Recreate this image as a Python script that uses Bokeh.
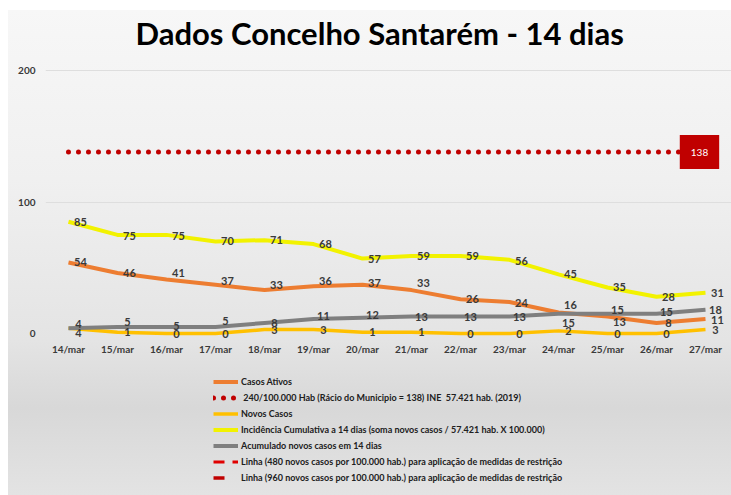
from bokeh.plotting import figure
from bokeh.models import (ColumnDataSource, LabelSet, Label, Legend, LegendItem,
                          FixedTicker, Range1d)
from bokeh.core.properties import value
from bokeh.embed import file_html
from bokeh.resources import INLINE

# ---------------- data ----------------
dates = ["14/mar", "15/mar", "16/mar", "17/mar", "18/mar", "19/mar", "20/mar",
         "21/mar", "22/mar", "23/mar", "24/mar", "25/mar", "26/mar", "27/mar"]
casos_ativos = [54, 46, 41, 37, 33, 36, 37, 33, 26, 24, 16, 13, 8, 11]
novos_casos = [4, 1, 0, 0, 3, 3, 1, 1, 0, 0, 2, 0, 0, 3]
incidencia = [85, 75, 75, 70, 71, 68, 57, 59, 59, 56, 45, 35, 28, 31]
acumulado = [4, 5, 5, 5, 8, 11, 12, 13, 13, 13, 15, 15, 15, 18]
limiar_240 = 138   # 240/100.000 hab. for 57.421 hab.
limiar_480 = 276   # 480/100.000 hab. (above the visible range)
limiar_960 = 551   # 960/100.000 hab. (above the visible range)
y_ticks = [0, 100, 200]

title_text = "Dados Concelho Santarém - 14 dias"
legend_labels = [
    "Casos Ativos",
    " 240/100.000 Hab (Rácio do Municipio = 138) INE  57.421 hab. (2019)",
    "Novos Casos",
    "Incidência Cumulativa a 14 dias (soma novos casos / 57.421 hab. X 100.000)",
    "Acumulado novos casos em 14 dias",
    "Linha (480 novos casos por 100.000 hab.) para aplicação de medidas de restrição",
    "Linha (960 novos casos por 100.000 hab.) para aplicação de medidas de restrição",
]

# label placement (vertical pixel nudges of the data labels, style only)
dy_ativos = [0, 0, 7, 4, 5, 5, 2, 7, 0, -1, 7, -6, 0, -1]
dy_acum = [4, 5, 1, 6, 0, 3, 3, -1, -1, -1, -9, 4, 2, 0]
dy_novos = [-5, 0, 0, 0, 0, 0, 0, 0, 0, 0, 0, 0, 0, 0]
dy_inc = [0, -1, -1, 0, 0, 0, 0, 0, 0, -1, 0, 0, 0, 0]

# ---------------- figure ----------------
x = list(range(len(dates)))
FONT = "Lato"
LBL = "#3a3a3a"

# frame: left 45, right 731, top 62, bottom 495 (screen px)
p = figure(width=731, height=495, output_backend="svg", toolbar_location=None,
           x_range=Range1d(-0.469, 13.531), y_range=Range1d(-123.2, 206.1),
           min_border_left=45, min_border_right=0, min_border_top=62,
           min_border_bottom=0)
p.background_fill_alpha = 0
p.border_fill_alpha = 0
p.outline_line_color = None
p.styles = {"background": "linear-gradient(to bottom, #f7f7f7 0%, #f0f0f0 35%, #e4e4e4 68%, #d8d8d8 82%, #e3e3e3 100%) 8px 10px / calc(100% - 8px) calc(100% - 10px) no-repeat, #ffffff"}

p.title.text = title_text
p.title.align = "left"
p.title.offset = 90
p.title.text_font = FONT
p.title.text_font_style = "bold"
p.title.text_font_size = "31px"
p.title.text_color = "#000000"
p.title.standoff = 22

# axes
p.yaxis.ticker = FixedTicker(ticks=y_ticks)
p.yaxis.axis_line_color = None
p.yaxis.major_tick_line_color = None
p.yaxis.minor_tick_line_color = None
p.yaxis.major_tick_out = 0
p.yaxis.minor_tick_out = 0
p.yaxis.major_label_standoff = 10
p.yaxis.major_label_text_font = FONT
p.yaxis.major_label_text_font_style = "bold"
p.yaxis.major_label_text_font_size = "10px"
p.yaxis.major_label_text_color = LBL

p.xaxis.ticker = FixedTicker(ticks=x)
p.xaxis.fixed_location = -6
p.xaxis.major_label_overrides = {i: d for i, d in zip(x, dates)}
p.xaxis.axis_line_color = None
p.xaxis.major_tick_line_color = None
p.xaxis.minor_tick_line_color = None
p.xaxis.major_tick_out = 0
p.xaxis.minor_tick_out = 0
p.xaxis.major_label_standoff = 2
p.xaxis.major_label_text_font = FONT
p.xaxis.major_label_text_font_style = "bold"
p.xaxis.major_label_text_font_size = "10px"
p.xaxis.major_label_text_color = LBL

p.xgrid.visible = False
p.ygrid.ticker = FixedTicker(ticks=[t for t in y_ticks if t > 0])
p.ygrid.grid_line_color = "#dedede"

# ---------------- series ----------------
C_ORANGE = "#ED7D31"
C_RED = "#C00000"
C_GOLD = "#FFC000"
C_YELLOW = "#F2F200"
C_GRAY = "#7F7F7F"

n = len(x)
src = ColumnDataSource(dict(
    x=x,
    ativos=casos_ativos, novos=novos_casos, inc=incidencia, acum=acumulado,
    l240=[limiar_240] * n, l480=[limiar_480] * n, l960=[limiar_960] * n,
    t_ativos=[str(v) for v in casos_ativos],
    t_novos=[str(v) for v in novos_casos],
    t_inc=[str(v) for v in incidencia],
    t_acum=[str(v) for v in acumulado],
    dy_ativos=dy_ativos, dy_novos=dy_novos, dy_inc=dy_inc, dy_acum=dy_acum,
))

r_ativos = p.line("x", "ativos", source=src, line_color=C_ORANGE, line_width=4, line_join="round")
r_240 = p.line("x", "l240", source=src, line_color=C_RED, line_width=5,
               line_dash="0 10", line_cap="round")
r_novos = p.line("x", "novos", source=src, line_color=C_GOLD, line_width=3.5, line_join="round")
r_inc = p.line("x", "inc", source=src, line_color=C_YELLOW, line_width=4, line_join="round")
r_acum = p.line("x", "acum", source=src, line_color=C_GRAY, line_width=4, line_join="round")
r_480 = p.line("x", "l480", source=src, line_color="#E00000", line_width=3, line_dash="11 8 6 20")
r_960 = p.line("x", "l960", source=src, line_color=C_RED, line_width=3.5, line_dash="11 40")

# data labels
for col, ycol, dx, dycol in (("t_inc", "inc", 12, "dy_inc"), ("t_ativos", "ativos", 12, "dy_ativos"),
                             ("t_acum", "acum", 10, "dy_acum"), ("t_novos", "novos", 10, "dy_novos")):
    p.add_layout(LabelSet(x="x", y=ycol, text=col, source=src, x_offset=dx, y_offset=dycol,
                          text_align="center", text_baseline="middle",
                          text_font=value(FONT), text_font_style="bold",
                          text_font_size="11px", text_color=LBL))

p.add_layout(Label(x=x[-1], y=limiar_240, text=str(limiar_240), x_offset=-6,
                   text_align="center", text_baseline="middle",
                   text_font=FONT, text_font_size="10px", text_color="white",
                   background_fill_color=C_RED, background_fill_alpha=1,
                   padding={"left": 11, "right": 11, "top": 14, "bottom": 13}))

# ---------------- legend ----------------
renderers = [r_ativos, r_240, r_novos, r_inc, r_acum, r_480, r_960]
legend = Legend(items=[LegendItem(label=l, renderers=[r]) for l, r in zip(legend_labels, renderers)],
                location=(168, 12), orientation="vertical",
                border_line_alpha=0, background_fill_alpha=0,
                label_text_font=FONT,
                label_text_font_style="bold",
                label_text_font_size="9px", label_text_color="#202020",
                glyph_width=25, glyph_height=11, label_height=11,
                spacing=5, padding=0, margin=0, label_standoff=3)
p.add_layout(legend, "center")

open("out.html", "w").write(file_html(p, INLINE))
